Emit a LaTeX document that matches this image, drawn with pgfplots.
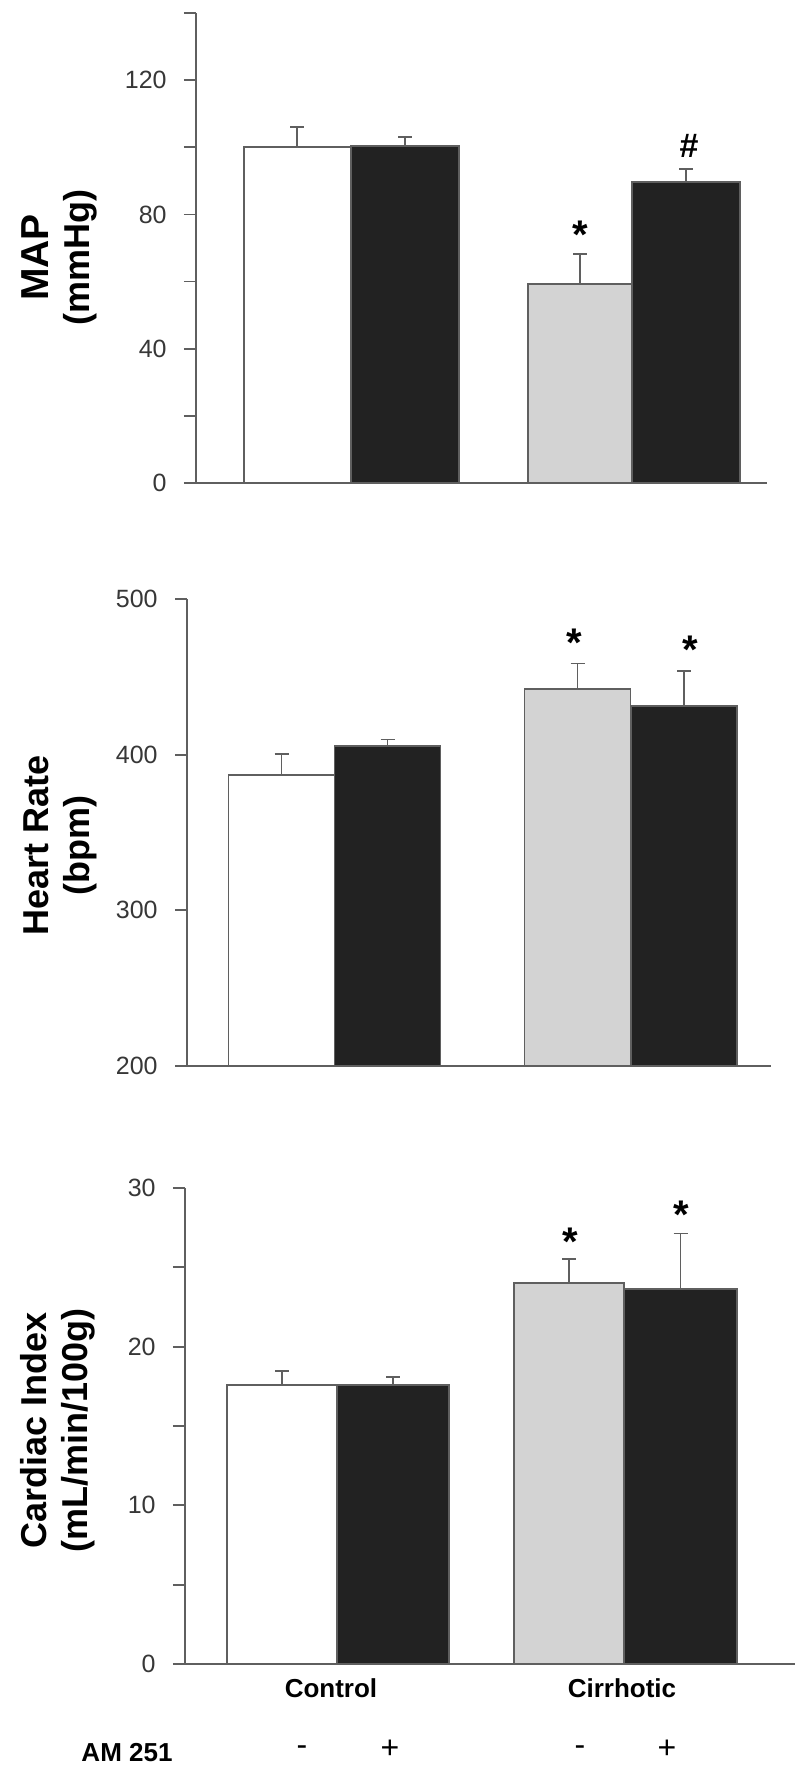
\documentclass[border=0pt]{standalone}
\usepackage{fontspec}
\setmainfont{Liberation Sans}
\usepackage{pgfplots}
\pgfplotsset{compat=1.18}
\definecolor{axisgray}{RGB}{95,95,95}
\definecolor{barblack}{RGB}{34,34,34}
\definecolor{barlight}{RGB}{211,211,211}
\definecolor{ticktext}{RGB}{55,55,55}

\pgfplotsset{
  panel/.style={
    scale only axis, anchor=south west,
    axis x line=bottom, axis y line=left,
    axis line style={-, draw=axisgray, line width=0.9pt},
    xmin=0, xtick=\empty,
    ytick align=outside, major tick length=6pt,
    ytick style={draw=axisgray, line width=0.9pt},
    tick label style={font=\fontsize{12.5}{14}\selectfont, text=ticktext},
    /pgf/number format/assume math mode=true,
    yticklabel style={inner sep=0pt, xshift=-8.5pt},
    every axis y label/.style={rotate=90, anchor=center, align=center,
      font=\bfseries\fontsize{18}{20.5}\selectfont},
    clip=false,
  },
  mybar/.style={ybar, bar shift=0pt, draw=axisgray, line width=0.9pt,
    error bars/y dir=plus, error bars/y explicit,
    error bars/error bar style={draw=axisgray, line width=0.9pt},
    error bars/error mark options={draw=axisgray, line width=0.9pt, mark size=3.5pt, rotate=90}},
}
\tikzset{sig/.style={anchor=north, inner sep=0pt, font=\bfseries\fontsize{20}{20}\selectfont}}

\begin{document}
\begin{tikzpicture}
\useasboundingbox (0,0) rectangle (400pt,-886.5pt);

% MAP
\begin{axis}[panel, at={(98pt,-241.5pt)}, width=285.5pt, height=235pt,
    xmax=571, ymin=0, ymax=140,
    ytick={0,20,...,140}, yticklabels={0,,40,,80,,120,},
    ylabel={{\fontsize{19.5}{20.5}\selectfont MAP}\\(mmHg)},
    every axis y label/.append style={at={(axis description cs:-0.240,0.48)}}]
  \addplot[mybar, fill=white, bar width=53.5pt] coordinates {(101.2,100) +- (0,6.1)};
  \addplot[mybar, fill=barblack, bar width=54pt] coordinates {(209.2,100.5) +- (0,2.5)};
  \addplot[mybar, fill=barlight, bar width=52pt] coordinates {(384,59.3) +- (0,9.0)};
  \addplot[mybar, fill=barblack, bar width=54pt] coordinates {(490,89.7) +- (0,3.9)};
  \node[sig] at (axis cs:384,78.2) {*};
  \node[sig, font=\bfseries\fontsize{17}{17}\selectfont] at (axis cs:493,104) {\#};
\end{axis}

% Heart rate
\begin{axis}[panel, at={(93.5pt,-533pt)}, width=292pt, height=233.5pt,
    xmax=584, ymin=200, ymax=500,
    ytick={200,300,400,500},
    ylabel={Heart Rate\\(bpm)},
    every axis y label/.append style={at={(axis description cs:-0.217,0.473)}}]
  \addplot[mybar, fill=white, bar width=53pt] coordinates {(94.5,387) +- (0,13.4)};
  \addplot[mybar, fill=barblack, bar width=53pt] coordinates {(200.5,405.8) +- (0,4.0)};
  \addplot[mybar, fill=barlight, bar width=53pt] coordinates {(390.5,442) +- (0,16.6)};
  \addplot[mybar, fill=barblack, bar width=53pt] coordinates {(497,431.3) +- (0,22.6)};
  \node[sig] at (axis cs:387,480.7) {*};
  \node[sig] at (axis cs:503,476.2) {*};
\end{axis}

% Cardiac index
\begin{axis}[panel, at={(92.5pt,-832pt)}, width=305pt, height=238pt,
    xmax=610, ymin=0, ymax=30,
    ytick={0,5,...,30}, yticklabels={0,,10,,20,,30},
    ylabel={Cardiac Index\\(mL/min/100g)},
    every axis y label/.append style={at={(axis description cs:-0.208,0.49)}}]
  \addplot[mybar, fill=white, bar width=55pt] coordinates {(97,17.57) +- (0,0.92)};
  \addplot[mybar, fill=barblack, bar width=56pt] coordinates {(208,17.6) +- (0,0.49)};
  \addplot[mybar, fill=barlight, bar width=55pt] coordinates {(384,24.02) +- (0,1.53)};
  \addplot[mybar, fill=barblack, bar width=56.5pt] coordinates {(495.5,23.65) +- (0,3.48)};
  \node[sig] at (axis cs:385,27.5) {*};
  \node[sig] at (axis cs:496,29.2) {*};
  \node[font=\bfseries\fontsize{13}{13}\selectfont, yshift=-12pt] at (axis cs:146,0) {Control};
  \node[font=\bfseries\fontsize{13}{13}\selectfont, yshift=-12pt] at (axis cs:437,0) {Cirrhotic};
\end{axis}

\node[font=\bfseries\fontsize{13}{13}\selectfont] at (63.5pt,-876.5pt) {AM 251};
\node[font=\fontsize{16}{16}\selectfont] at (151pt,-875.5pt) {-};
\node[font=\fontsize{16}{16}\selectfont] at (195pt,-874.5pt) {+};
\node[font=\fontsize{16}{16}\selectfont] at (290pt,-875.5pt) {-};
\node[font=\fontsize{16}{16}\selectfont] at (333.5pt,-874.5pt) {+};
\end{tikzpicture}
\end{document}
